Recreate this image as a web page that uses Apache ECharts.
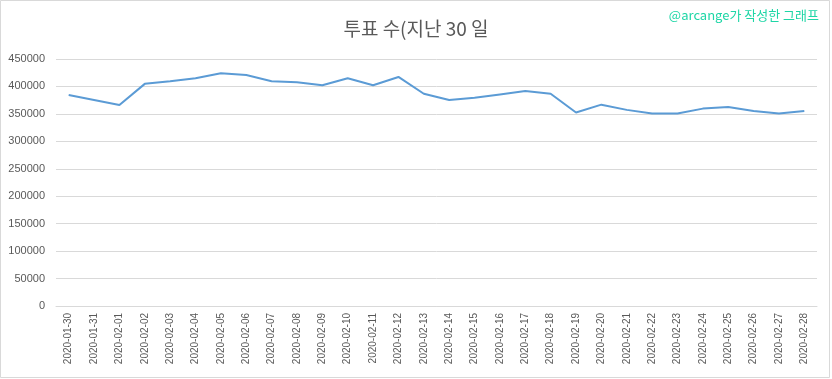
<!DOCTYPE html>
<html>
<head>
<meta charset="utf-8">
<script src="https://cdn.jsdelivr.net/npm/echarts@6/dist/echarts.min.js"></script>
<style>
html,body{margin:0;padding:0;background:#fff;}
#chart{width:832px;height:379px;}
</style>
</head>
<body>
<div id="chart"></div>
<script>
const categories = [
  '2020-01-30','2020-01-31','2020-02-01','2020-02-02','2020-02-03','2020-02-04','2020-02-05','2020-02-06','2020-02-07','2020-02-08',
  '2020-02-09','2020-02-10','2020-02-11','2020-02-12','2020-02-13','2020-02-14','2020-02-15','2020-02-16','2020-02-17','2020-02-18',
  '2020-02-19','2020-02-20','2020-02-21','2020-02-22','2020-02-23','2020-02-24','2020-02-25','2020-02-26','2020-02-27','2020-02-28'
];
const votes = [
  384300, 375300, 366200, 404700, 409600, 415000, 424000, 421000, 409600, 407700,
  402300, 415000, 402300, 417300, 386700, 375300, 379500, 385500, 391500, 386700,
  352400, 366800, 357300, 350600, 350600, 359600, 362600, 355400, 350600, 355400
];
const titleText = '투표 수(지난 30 일';
const watermark = '@arcange가 작성한 그래프';

const chart = echarts.init(document.getElementById('chart'));
chart.setOption({
  animation: false,
  backgroundColor: '#fff',
  title: {
    text: titleText,
    left: 'center',
    top: 14,
    textStyle: { fontFamily: 'Noto Sans CJK KR', fontSize: 19, fontWeight: 'normal', color: '#595959' }
  },
  graphic: [
    { type: 'rect', shape: { x: 0.5, y: 0.5, width: 829, height: 377 }, style: { fill: 'none', stroke: '#d9d9d9', lineWidth: 1 }, silent: true },
    { type: 'text', right: 13, top: 9, style: { text: watermark, fill: '#1ED6A6', font: '13px "Noto Sans CJK KR"' } }
  ],
  grid: { left: 56, right: 15, top: 59, bottom: 73 },
  xAxis: {
    type: 'category',
    data: categories,
    boundaryGap: true,
    axisLine: { lineStyle: { color: '#d9d9d9' } },
    axisTick: { show: false },
    axisLabel: { rotate: 90, interval: 0, fontSize: 10, color: '#595959', fontFamily: 'Liberation Sans', margin: 7 }
  },
  yAxis: {
    type: 'value',
    min: 0, max: 450000, interval: 50000,
    axisLine: { show: false },
    axisTick: { show: false },
    splitLine: { lineStyle: { color: '#d9d9d9' } },
    axisLabel: { fontSize: 11, color: '#595959', fontFamily: 'Liberation Sans', margin: 11, formatter: v => String(v) }
  },
  series: [{
    type: 'line',
    data: votes,
    symbol: 'none',
    lineStyle: { color: '#5B9BD5', width: 2 }
  }]
});
</script>
</body>
</html>
